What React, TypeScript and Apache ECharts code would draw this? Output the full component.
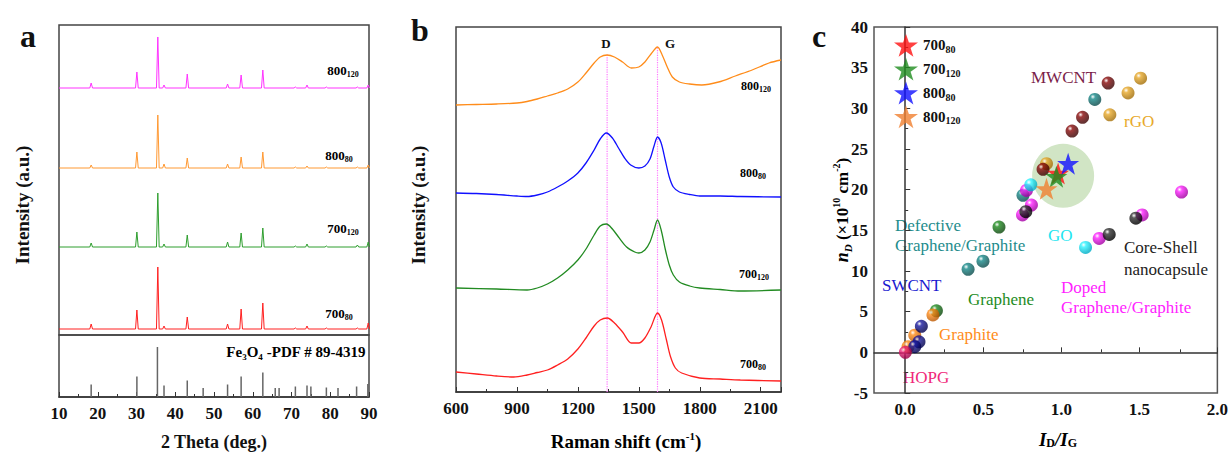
import React, { useEffect, useRef } from 'react';
import * as echarts from 'echarts';

const SERIF = '"Liberation Serif", "Times New Roman", serif';

// ---------- Panel a: XRD ----------
const pdfAngles = [18.3, 30.1, 35.4, 37.1, 43.1, 47.2, 53.5, 57.0, 62.6, 65.8, 66.8, 71.0, 74.0, 75.0, 79.0, 82.0, 86.8, 89.7];
const pdfIntensity = [25, 41, 100, 23, 33, 18, 25, 41, 49, 18, 18, 21, 23, 21, 19, 18, 21, 26];

const xrdOffset800_120 = 247;
const xrdOffset800_80 = 167;
const xrdOffset700_120 = 88;
const xrdOffset700_80 = 6;

const xrdPeaks800_120: [number, number][] = [[18.3, 5], [30.1, 16], [35.5, 51], [37.1, 3], [43.1, 14], [53.5, 4], [57.0, 13], [62.6, 18], [71.0, 1], [74.0, 3], [79.0, 1], [87.0, 1], [89.8, 3]];
const xrdPeaks800_80: [number, number][] = [[18.3, 3], [30.1, 16], [35.5, 53], [37.1, 4], [43.1, 10], [53.5, 4], [57.0, 11], [62.6, 16], [71.0, 1], [74.0, 2], [79.0, 1], [87.0, 1], [89.8, 3]];
const xrdPeaks700_120: [number, number][] = [[18.3, 4], [30.1, 15], [35.5, 54], [37.1, 3], [43.1, 12], [53.5, 5], [57.0, 14], [62.6, 19], [71.0, 1], [74.0, 3], [79.0, 1], [87.0, 2], [89.8, 5]];
const xrdPeaks700_80: [number, number][] = [[18.3, 5], [30.1, 19], [35.5, 62], [37.1, 3], [43.1, 12], [53.5, 5], [57.0, 20], [62.6, 26], [71.0, 1], [74.0, 3], [79.0, 1], [87.0, 1], [89.8, 6]];

// ---------- Panel b: Raman ----------
const raman800_120: [number, number][] = [[600, 287], [700, 287.5], [800, 288], [900, 289], [950, 290.5], [1000, 293], [1050, 296], [1100, 299], [1150, 303], [1200, 310], [1240, 319], [1280, 329], [1310, 335], [1344, 337], [1380, 335], [1420, 330], [1463, 324], [1500, 325], [1530, 330], [1560, 338], [1592, 345], [1615, 337], [1640, 325], [1665, 315], [1700, 310], [1750, 308], [1810, 307], [1893, 310], [1975, 316], [2058, 322], [2141, 329], [2200, 332]];
const raman800_80: [number, number][] = [[600, 199], [700, 198.5], [800, 197.5], [900, 196], [950, 195.5], [1000, 197], [1050, 200], [1100, 205], [1150, 211], [1200, 219], [1240, 229], [1280, 242], [1310, 253], [1340, 259], [1370, 254], [1400, 244], [1430, 234], [1460, 227], [1500, 224], [1530, 226], [1555, 233], [1575, 246], [1592, 255], [1610, 249], [1630, 232], [1650, 215], [1670, 205], [1700, 200], [1750, 197.5], [1800, 196], [1900, 196], [2000, 195.5], [2200, 195]];
const raman700_120: [number, number][] = [[600, 104], [800, 103], [950, 102], [1000, 104], [1050, 108], [1100, 114], [1150, 122], [1200, 132], [1240, 143], [1280, 157], [1310, 166], [1340, 168], [1370, 163], [1400, 155], [1440, 145], [1480, 140], [1500, 139], [1530, 142], [1555, 150], [1575, 162], [1592, 172], [1610, 162], [1630, 143], [1650, 127], [1670, 117], [1700, 110], [1750, 106], [1800, 104], [1900, 102.5], [2000, 101], [2200, 102]];
const raman700_80: [number, number][] = [[600, 20], [700, 18], [800, 16], [884, 15], [950, 17], [1000, 19.5], [1050, 22], [1100, 27], [1150, 33], [1200, 43], [1240, 54], [1280, 66], [1310, 72], [1345, 74], [1380, 69], [1420, 60], [1463, 49], [1500, 49], [1530, 54], [1560, 65], [1592, 79], [1612, 72], [1635, 53], [1655, 36], [1680, 24], [1711, 19], [1800, 14], [1900, 13], [2000, 12], [2200, 11]];
const ramanBandD = 1344;
const ramanBandG = 1592;

// ---------- Panel c: nD vs ID/IG ----------
const mwcnt: [number, number][] = [[1.293, 33.1], [1.13, 28.9], [1.063, 27.2], [0.878, 22.5]];
const rgo: [number, number][] = [[1.50, 33.7], [1.42, 31.9], [1.304, 29.2], [0.90, 23.2]];
const defective: [number, number][] = [[1.208, 31.1], [0.75, 19.3], [0.40, 10.2], [0.495, 11.2]];
const go: [number, number][] = [[0.80, 20.6], [1.149, 12.9]];
const doped: [number, number][] = [[0.772, 19.9], [0.804, 18.1], [0.747, 16.9], [1.761, 19.7], [1.51, 16.9], [1.236, 14.0]];
const coreShell: [number, number][] = [[0.768, 17.3], [1.47, 16.5], [1.30, 14.5]];
const graphene: [number, number][] = [[0.597, 15.4], [0.198, 5.1]];
const graphite: [number, number][] = [[0.176, 4.6], [0.06, 2.1], [0.017, 0.7]];
const swcnt: [number, number][] = [[0.102, 3.2], [0.087, 1.3], [0.06, 0.7]];
const hopg: [number, number][] = [[0.0, 0.0]];
const star700_80: [number, number][] = [[0.974, 22.0]];
const star700_120: [number, number][] = [[0.963, 21.6]];
const star800_80: [number, number][] = [[1.038, 23.2]];
const star800_120: [number, number][] = [[0.90, 20.1]];
const highlightCenter: [number, number][] = [[1.006, 21.7]];

const cXLabels = [0, 0.5, 1.0, 1.5, 2.0];
const cXMinor = [0.25, 0.75, 1.25, 1.75];

const STAR = 'path://M12,0 L14.9,8.6 L24,8.6 L16.6,13.9 L19.4,22.8 L12,17.4 L4.6,22.8 L7.4,13.9 L0,8.6 L9.1,8.6 Z';

function xrdLine(peaks: [number, number][], off: number): [number, number][] {
  const pts: [number, number][] = [[10, off]];
  for (const [a, h] of peaks) {
    pts.push([a - 0.35, off], [a, off + h], [a + 0.35, off]);
  }
  pts.push([90, off]);
  return pts;
}

function ball(base: string, dark: string) {
  return {
    type: 'radial', x: 0.35, y: 0.3, r: 0.75,
    colorStops: [
      { offset: 0, color: '#ffffff' },
      { offset: 0.25, color: base },
      { offset: 0.85, color: dark },
      { offset: 1, color: dark },
    ],
  };
}

const subRich = (main: number, sub: number, lh: number) => ({
  m: { fontSize: main, fontWeight: 'bold', fontFamily: SERIF, color: '#111', lineHeight: lh },
  s: { fontSize: sub, fontWeight: 'bold', fontFamily: SERIF, color: '#111', lineHeight: sub + 1, verticalAlign: 'bottom' },
});

export default function App() {
  const ref = useRef<HTMLDivElement>(null);
  useEffect(() => {
    document.body.style.margin = '0';
    const chart = echarts.init(ref.current!, undefined, { renderer: 'svg' });

    const tickLabel = { fontFamily: SERIF, fontWeight: 'bold', fontSize: 17, color: '#111' };
    const frameLine = { show: true, lineStyle: { color: '#333', width: 1.5 } };

    const sphereSeries = (name: string, data: [number, number][], base: string, dark: string) => ({
      type: 'scatter', name, xAxisIndex: 4, yAxisIndex: 4, data, symbolSize: 13,
      itemStyle: { color: ball(base, dark) }, z: 3,
    });
    const starSeries = (name: string, data: [number, number][], color: string) => ({
      type: 'scatter', name, xAxisIndex: 4, yAxisIndex: 4, data, symbol: STAR, symbolSize: 22,
      itemStyle: { color }, z: 4,
    });
    const ramanSeries = (data: [number, number][], color: string) => ({
      type: 'line', xAxisIndex: 2, yAxisIndex: 2, data, smooth: 0.3, showSymbol: false,
      lineStyle: { color, width: 1.3 },
    });

    const txt = (x: number, y: number, text: string, color: string, size = 17) => ({
      type: 'text', x, y,
      style: { text, fill: color, fontSize: size, fontFamily: SERIF, verticalAlign: 'middle' },
    });
    const boldTxt = (x: number, y: number, text: string, size: number, rotation = 0) => ({
      type: 'text', x, y, rotation,
      style: { text, fill: '#111', fontSize: size, fontFamily: SERIF, fontWeight: 'bold', align: 'center', verticalAlign: 'middle' },
    });
    const subLabel = (x: number, y: number, main: string, sub: string, ms = 13, ss = 8) => ({
      type: 'text', x, y,
      style: { text: `{m|${main}}{s|${sub}}`, rich: subRich(ms, ss, ms + 3), align: 'center', verticalAlign: 'middle' },
    });

    const option: any = {
      animation: false,
      backgroundColor: '#fff',
      grid: [
        { left: 59, top: 25, width: 310, height: 310, show: true, borderColor: '#444', borderWidth: 1.5 },
        { left: 59, top: 335, width: 310, height: 62, show: true, borderColor: '#444', borderWidth: 1.5 },
        { left: 456, top: 27, width: 325, height: 365, show: true, borderColor: '#444', borderWidth: 1.5 },
        { left: 874, top: 27, width: 345, height: 366, show: true, borderColor: '#555', borderWidth: 1.5 },
        { left: 874, top: 27, width: 345, height: 366 },
      ],
      xAxis: [
        { type: 'value', gridIndex: 0, min: 10, max: 90, axisLine: { show: false }, axisTick: { show: false }, axisLabel: { show: false }, splitLine: { show: false } },
        {
          type: 'value', gridIndex: 1, min: 10, max: 90, interval: 10,
          axisLine: frameLine, axisTick: { show: true, inside: true, length: 5, lineStyle: { color: '#333' } },
          minorTick: { show: true, splitNumber: 2, length: 3, lineStyle: { color: '#333' } },
          axisLabel: { ...tickLabel, margin: 8 }, splitLine: { show: false },
        },
        {
          type: 'value', gridIndex: 2, min: 600, max: 2200, interval: 300,
          axisLine: frameLine, axisTick: { show: true, inside: true, length: 5, lineStyle: { color: '#333' } },
          minorTick: { show: true, splitNumber: 2, length: 3, lineStyle: { color: '#333' } },
          axisLabel: { ...tickLabel, margin: 8, showMaxLabel: false, formatter: (v: number) => String(v) }, splitLine: { show: false },
        },
        {
          type: 'value', gridIndex: 3, min: -0.2, max: 2.0,
          axisLine: frameLine,
          axisTick: { show: true, inside: true, length: 5, customValues: cXLabels, lineStyle: { color: '#333' } },
          axisLabel: { ...tickLabel, margin: 8, customValues: cXLabels, formatter: (v: number) => v.toFixed(1) },
          splitLine: { show: false },
        },
        {
          type: 'value', gridIndex: 4, min: -0.2, max: 2.0,
          axisLine: { show: false },
          axisTick: { show: true, inside: true, length: 3, customValues: cXMinor, lineStyle: { color: '#333' } },
          axisLabel: { show: false }, splitLine: { show: false },
        },
      ],
      yAxis: [
        { type: 'value', gridIndex: 0, min: 0, max: 310, axisLine: { show: false }, axisTick: { show: false }, axisLabel: { show: false }, splitLine: { show: false } },
        { type: 'value', gridIndex: 1, min: 0, max: 124, axisLine: { show: false }, axisTick: { show: false }, axisLabel: { show: false }, splitLine: { show: false } },
        { type: 'value', gridIndex: 2, min: 0, max: 365, axisLine: { show: false }, axisTick: { show: false }, axisLabel: { show: false }, splitLine: { show: false } },
        {
          type: 'value', gridIndex: 3, min: -5, max: 40, interval: 5,
          axisLine: frameLine, axisTick: { show: true, inside: true, length: 5, lineStyle: { color: '#333' } },
          minorTick: { show: true, splitNumber: 2, length: 3, lineStyle: { color: '#333' } },
          axisLabel: { ...tickLabel, margin: 6 }, splitLine: { show: false },
        },
        { type: 'value', gridIndex: 4, min: -5, max: 40, show: false },
      ],
      legend: {
        data: ['700_80', '700_120', '800_80', '800_120'],
        orient: 'vertical', left: 889, top: 29, itemWidth: 24, itemHeight: 24, itemGap: 1,
        formatter: (n: string) => { const [a, b] = n.split('_'); return `{m|${a}}{s|${b}}`; },
        textStyle: { rich: subRich(15, 10, 18) },
      },
      series: [
        // Panel a
        { type: 'line', xAxisIndex: 0, yAxisIndex: 0, data: xrdLine(xrdPeaks800_120, xrdOffset800_120), showSymbol: false, lineStyle: { color: '#FF33FF', width: 1 } },
        { type: 'line', xAxisIndex: 0, yAxisIndex: 0, data: xrdLine(xrdPeaks800_80, xrdOffset800_80), showSymbol: false, lineStyle: { color: '#FF9933', width: 1 } },
        { type: 'line', xAxisIndex: 0, yAxisIndex: 0, data: xrdLine(xrdPeaks700_120, xrdOffset700_120), showSymbol: false, lineStyle: { color: '#2E9E2E', width: 1 } },
        { type: 'line', xAxisIndex: 0, yAxisIndex: 0, data: xrdLine(xrdPeaks700_80, xrdOffset700_80), showSymbol: false, lineStyle: { color: '#FF2020', width: 1 } },
        { type: 'bar', xAxisIndex: 1, yAxisIndex: 1, data: pdfAngles.map((a, i) => [a, pdfIntensity[i]]), barWidth: 1.5, itemStyle: { color: '#666' } },
        // Panel b
        { type: 'line', xAxisIndex: 2, yAxisIndex: 2, data: [[ramanBandD, 0], [ramanBandD, 338]], showSymbol: false, lineStyle: { color: '#FF77FF', width: 1.2, type: 'dotted' } },
        { type: 'line', xAxisIndex: 2, yAxisIndex: 2, data: [[ramanBandG, 0], [ramanBandG, 345]], showSymbol: false, lineStyle: { color: '#FF77FF', width: 1.2, type: 'dotted' } },
        ramanSeries(raman800_120, '#FF8C1A'),
        ramanSeries(raman800_80, '#1010FF'),
        ramanSeries(raman700_120, '#228B22'),
        ramanSeries(raman700_80, '#FF2020'),
        // Panel c
        { type: 'scatter', xAxisIndex: 4, yAxisIndex: 4, data: highlightCenter, symbolSize: [62, 64], itemStyle: { color: 'rgba(140,190,110,0.5)' }, z: 1 },
        sphereSeries('teal', defective, '#168A8A', '#0a4f4f'),
        sphereSeries('green', graphene, '#1E8C1E', '#0a4a0a'),
        sphereSeries('orange', graphite, '#FF8C1A', '#c05a00'),
        sphereSeries('navy', swcnt, '#1a1aa0', '#000050'),
        sphereSeries('pink', hopg, '#F0287A', '#a00048'),
        sphereSeries('gold', rgo, '#E8A92A', '#a87208'),
        sphereSeries('maroon', mwcnt, '#8B0A0A', '#400000'),
        sphereSeries('magenta', doped, '#FF22FF', '#a800a8'),
        sphereSeries('cyan', go, '#30F4FF', '#00b0c8'),
        sphereSeries('black', coreShell, '#333333', '#000000'),
        starSeries('700_80', star700_80, '#FF1010'),
        starSeries('700_120', star700_120, '#1E8C1E'),
        starSeries('800_80', star800_80, '#1010FF'),
        starSeries('800_120', star800_120, '#F08030'),
      ],
      graphic: [
        // panel letters
        boldTxt(28, 36, 'a', 32),
        boldTxt(420, 30, 'b', 32),
        boldTxt(819, 36, 'c', 32),
        // axis titles
        boldTxt(214, 442, '2 Theta (deg.)', 18),
        boldTxt(22, 205, 'Intensity (a.u.)', 19, Math.PI / 2),
        {
          type: 'text', x: 626, y: 441,
          style: {
            text: '{m|Raman shift (cm}{u|-1}{m|)}', align: 'center', verticalAlign: 'middle',
            rich: { m: { fontSize: 19, fontWeight: 'bold', fontFamily: SERIF, color: '#111', lineHeight: 22 }, u: { fontSize: 11, fontWeight: 'bold', fontFamily: SERIF, color: '#111', verticalAlign: 'top', lineHeight: 12 } },
          },
        },
        boldTxt(418, 205, 'Intensity (a.u.)', 19, Math.PI / 2),
        {
          type: 'text', x: 1058, y: 439,
          style: {
            text: '{i|I}{s|D}{i|/I}{s|G}', align: 'center', verticalAlign: 'middle',
            rich: {
              i: { fontSize: 19, fontWeight: 'bold', fontStyle: 'italic', fontFamily: SERIF, color: '#111', lineHeight: 20 },
              s: { fontSize: 12, fontWeight: 'bold', fontFamily: SERIF, color: '#111', verticalAlign: 'bottom', lineHeight: 13 },
            },
          },
        },
        {
          type: 'text', x: 842, y: 210, rotation: Math.PI / 2,
          style: {
            text: '{i|n}{s|D}{m| (×10}{u|10}{m| cm}{u|-2}{m|)}', align: 'center', verticalAlign: 'middle',
            rich: {
              i: { fontSize: 18, fontWeight: 'bold', fontStyle: 'italic', fontFamily: SERIF, color: '#111', lineHeight: 22 },
              m: { fontSize: 17, fontWeight: 'bold', fontFamily: SERIF, color: '#111', lineHeight: 22 },
              s: { fontSize: 11, fontWeight: 'bold', fontStyle: 'italic', fontFamily: SERIF, color: '#111', verticalAlign: 'bottom', lineHeight: 12 },
              u: { fontSize: 10, fontWeight: 'bold', fontFamily: SERIF, color: '#111', verticalAlign: 'top', lineHeight: 11 },
            },
          },
        },
        // panel a sample labels
        subLabel(343, 70, '800', '120'),
        subLabel(339, 155, '800', '80'),
        subLabel(343, 228, '700', '120'),
        subLabel(339, 313, '700', '80'),
        {
          type: 'text', x: 296, y: 352,
          style: {
            text: '{m|Fe}{s|3}{m|O}{s|4}{m| -PDF # 89-4319}', align: 'center', verticalAlign: 'middle',
            rich: { m: { fontSize: 15, fontWeight: 'bold', fontFamily: SERIF, color: '#111', lineHeight: 18 }, s: { fontSize: 9, fontWeight: 'bold', fontFamily: SERIF, color: '#111', verticalAlign: 'bottom', lineHeight: 10 } },
          },
        },
        // panel b labels
        boldTxt(606, 43, 'D', 13),
        boldTxt(670, 43, 'G', 13),
        subLabel(756, 86, '800', '120', 12, 8),
        subLabel(753, 173, '800', '80', 12, 8),
        subLabel(754, 274, '700', '120', 12, 8),
        subLabel(753, 364, '700', '80', 12, 8),
        // panel c annotations
        txt(1031, 77, 'MWCNT', '#7B1E4A'),
        txt(1124, 121, 'rGO', '#E8A92A'),
        txt(895, 225, 'Defective', '#1E8C8C'),
        txt(895, 245, 'Graphene/Graphite', '#1E8C8C'),
        txt(1048, 235, 'GO', '#22E5F0'),
        txt(1124, 247, 'Core-Shell', '#222222'),
        txt(1124, 269, 'nanocapsule', '#222222'),
        txt(882, 285, 'SWCNT', '#1a1ad0'),
        txt(968, 299, 'Graphene', '#1E8C1E'),
        txt(1061, 287, 'Doped', '#FF22FF'),
        txt(1061, 307, 'Graphene/Graphite', '#FF22FF'),
        txt(939, 334, 'Graphite', '#FF8C1A'),
        txt(903, 377, 'HOPG', '#F0287A'),
      ],
    };
    chart.setOption(option);
    return () => chart.dispose();
  }, []);
  return <div ref={ref} style={{ width: 1231, height: 455 }} />;
}
